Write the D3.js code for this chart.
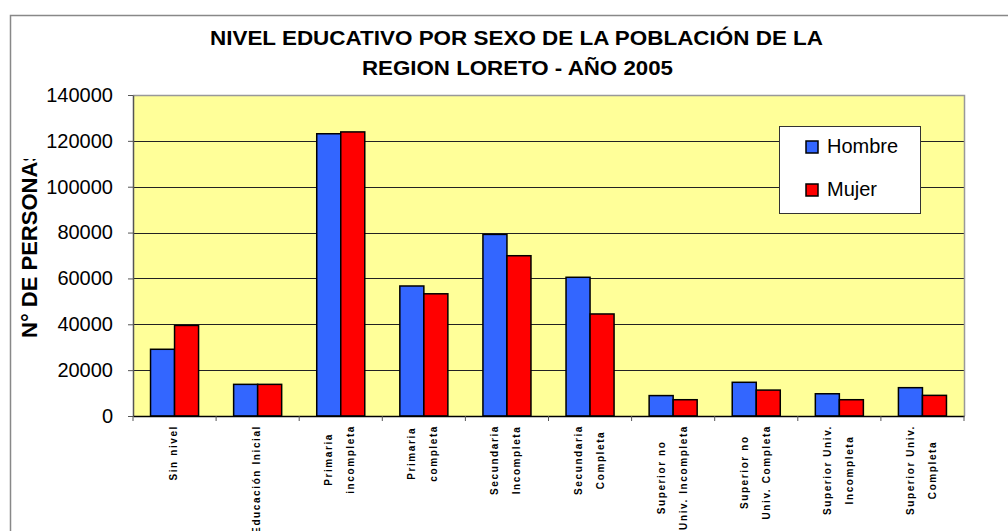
<!DOCTYPE html>
<html>
<head>
<meta charset="utf-8">
<script src="https://cdn.jsdelivr.net/npm/d3@7"></script>
<style>
  body { margin: 0; background: #fff; }
  svg { display: block; font-family: "Liberation Sans", Arial, sans-serif; }
</style>
</head>
<body>
<div id="chart"></div>
<script>
// datos
const categorias = [
    "Sin nivel", "Educación Inicial", "Primaria\nincompleta", "Primaria\ncompleta",
    "Secundaria\nIncompleta", "Secundaria\nCompleta", "Superior no\nUniv. Incompleta",
    "Superior no\nUniv. Completa", "Superior Univ.\nIncompleta", "Superior Univ.\nCompleta"
];
const series = ["Hombre", "Mujer"];
const hombre = [29100, 13800, 123100, 56700, 79200, 60500, 8900, 14700, 9700, 12350];
const mujer = [39500, 13800, 123900, 53300, 69900, 44500, 7100, 11300, 7100, 9000];
const yTicks = [0, 20000, 40000, 60000, 80000, 100000, 120000, 140000];
const titulo = ["NIVEL EDUCATIVO POR SEXO DE LA POBLACIÓN DE LA", "REGION LORETO - AÑO 2005"];
const colores = { Hombre: "#3366FF", Mujer: "#FF0000" };

const W = 1008, H = 531;
const plot = { left: 133, right: 964, top: 95, bottom: 416 };

const svg = d3.select("#chart").append("svg")
    .attr("width", W)
    .attr("height", H);

// borde exterior
svg.append("path")
    .attr("d", `M10.5,${H} V15.5 H${W}`)
    .attr("fill", "none")
    .attr("stroke", "#888")
    .attr("stroke-width", 1.5);

const x0 = d3.scaleBand().domain(categorias).range([plot.left, plot.right]);
const x1 = d3.scaleBand().domain(series).range([0, x0.bandwidth()]).paddingOuter(0.73);
const y = d3.scaleLinear().domain([0, 140000]).range([plot.bottom, plot.top]);

// fondo del area
svg.append("rect")
    .attr("x", plot.left).attr("y", plot.top)
    .attr("width", plot.right - plot.left).attr("height", plot.bottom - plot.top)
    .attr("fill", "#FFFF99");

// lineas de cuadricula
svg.selectAll("line.grid")
    .data(yTicks.filter(d => d > 0 && d < 140000))
    .enter().append("line")
    .attr("class", "grid")
    .attr("x1", plot.left).attr("x2", plot.right)
    .attr("y1", d => Math.round(y(d)) + 0.5).attr("y2", d => Math.round(y(d)) + 0.5)
    .attr("stroke", "#222");

// borde superior y derecho
svg.append("path")
    .attr("d", `M${plot.left},${plot.top + 0.5} H${plot.right + 0.5} V${plot.bottom}`)
    .attr("fill", "none")
    .attr("stroke", "#999")
    .attr("stroke-width", 1.5);

// barras
const filas = categorias.map((c, i) => ({ cat: c, valores: [
    { serie: "Hombre", v: hombre[i] }, { serie: "Mujer", v: mujer[i] }] }));

svg.append("g").selectAll("g")
    .data(filas)
    .enter().append("g")
    .attr("transform", d => `translate(${x0(d.cat)},0)`)
    .selectAll("rect")
    .data(d => d.valores)
    .enter().append("rect")
    .attr("x", d => x1(d.serie))
    .attr("y", d => y(d.v))
    .attr("width", x1.bandwidth())
    .attr("height", d => y(0) - y(d.v))
    .attr("fill", d => colores[d.serie])
    .attr("stroke", "#000")
    .attr("stroke-width", 1.5);

// eje Y
const ejeY = svg.append("g")
    .attr("transform", `translate(${plot.left},0)`)
    .call(d3.axisLeft(y).tickValues(yTicks).tickSize(5).tickSizeOuter(0).tickPadding(15).tickFormat(d3.format("d")));
ejeY.select(".domain").attr("stroke", "#555").attr("stroke-width", 1.5);
ejeY.selectAll(".tick line").attr("stroke", "#555");
ejeY.selectAll("text").attr("font-size", 20).attr("fill", "#000")
    .attr("font-family", "Liberation Sans, Arial, sans-serif");

// eje X
const ejeX = svg.append("g")
    .attr("transform", `translate(0,${plot.bottom})`)
    .call(d3.axisBottom(x0).tickSize(0).tickFormat(""));
ejeX.select(".domain").attr("stroke", "#000").attr("stroke-width", 1.5);
svg.selectAll("line.xtick")
    .data(categorias.concat(["fin"]))
    .enter().append("line")
    .attr("class", "xtick")
    .attr("x1", (d, i) => plot.left + i * x0.step())
    .attr("x2", (d, i) => plot.left + i * x0.step())
    .attr("y1", plot.bottom).attr("y2", plot.bottom + 5)
    .attr("stroke", "#555");

// etiquetas rotadas
const etiquetas = svg.append("g").selectAll("g")
    .data(categorias)
    .enter().append("g")
    .attr("transform", d => `translate(${x0(d) + x0.bandwidth() / 2},0) rotate(-90)`);

etiquetas.each(function(d) {
    const g = d3.select(this);
    const lineas = d.split("\n");
    const off = lineas.length === 1 ? [-1] : [-12, 10];
    const t = g.selectAll("text")
        .data(lineas)
        .enter().append("text")
        .attr("y", (l, i) => off[i])
        .attr("dy", "0.35em")
        .attr("text-anchor", "middle")
        .attr("font-size", 10)
        .attr("font-weight", "bold")
        .attr("letter-spacing", 1.6)
        .text(l => l);
    let maxLen = 0;
    t.each(function() { maxLen = Math.max(maxLen, this.getComputedTextLength()); });
    t.attr("x", -(425 + maxLen / 2));
});

// titulo
svg.selectAll("text.titulo")
    .data(titulo)
    .enter().append("text")
    .attr("class", "titulo")
    .attr("x", (d, i) => i === 0 ? 210 : 362)
    .attr("y", (d, i) => i === 0 ? 44.5 : 74.5)
    .attr("font-size", 21)
    .attr("font-weight", "bold")
    .attr("textLength", (d, i) => i === 0 ? 613 : 311)
    .attr("lengthAdjust", "spacingAndGlyphs")
    .text(d => d);

// titulo eje Y (recortado como en el original)
svg.append("clipPath").attr("id", "clipY")
    .append("rect").attr("x", 0).attr("y", 159).attr("width", 60).attr("height", 300);
svg.append("g")
    .attr("clip-path", "url(#clipY)")
    .append("text")
    .attr("transform", "translate(37,338) rotate(-90)")
    .attr("font-size", 22)
    .attr("font-weight", "bold")
    .text("N° DE PERSONAS");

// leyenda
const ley = svg.append("g");
ley.append("rect")
    .attr("x", 779.5).attr("y", 126.5).attr("width", 141).attr("height", 87)
    .attr("fill", "#fff").attr("stroke", "#333");
const items = ley.selectAll("g")
    .data(series)
    .enter().append("g")
    .attr("transform", (d, i) => `translate(806,${141 + i * 43})`);
items.append("rect")
    .attr("width", 12).attr("height", 12)
    .attr("fill", d => colores[d])
    .attr("stroke", "#000").attr("stroke-width", 1.5);
items.append("text")
    .attr("x", 21).attr("y", 12)
    .attr("font-size", 20)
    .text(d => d);
</script>
</body>
</html>
